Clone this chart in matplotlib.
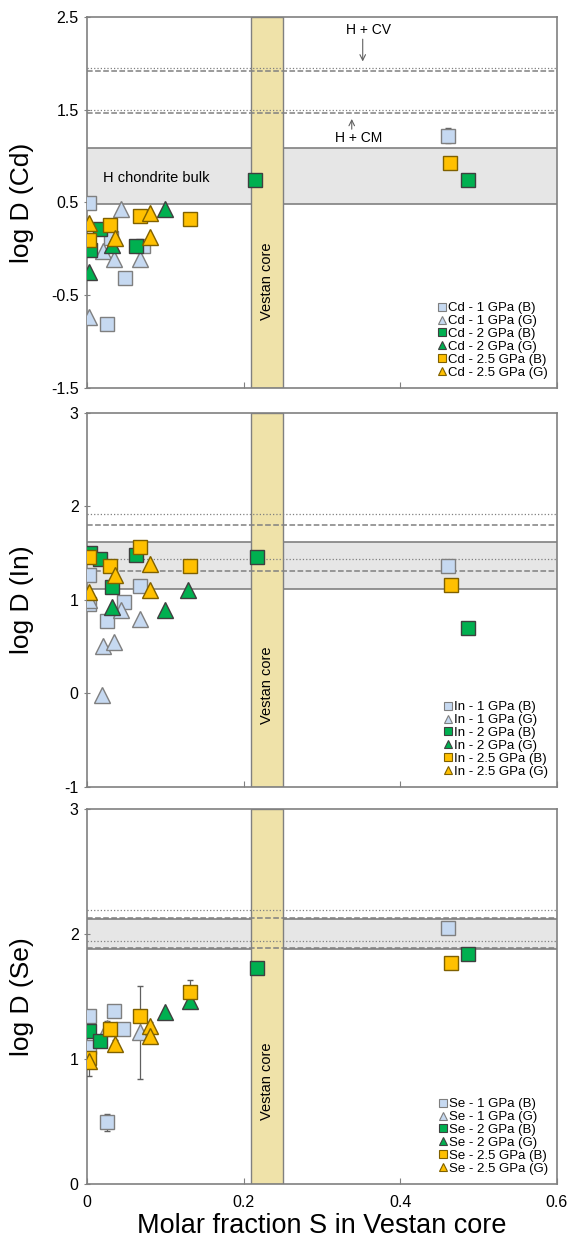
import numpy as np
import matplotlib
matplotlib.use("Agg")
import matplotlib.pyplot as plt

plt.rcParams['font.family'] = ['Liberation Sans', 'DejaVu Sans']
plt.rcParams['axes.unicode_minus'] = False

# ---- Cd data (x = molar fraction S, y = log D) ----
cd_1b_x = [0.002, 0.025, 0.048, 0.072, 0.030, 0.461]
cd_1b_y = [0.49, -0.81, -0.31, 0.03, 0.12, 1.22]
cd_1g_x = [0.043, 0.020, 0.035, 0.068, 0.003]
cd_1g_y = [0.43, -0.02, -0.11, -0.11, -0.74]
cd_2b_x = [0.016, 0.004, 0.063, 0.215, 0.486]
cd_2b_y = [0.21, -0.01, 0.03, 0.745, 0.745]
cd_2g_x = [0.099, 0.032, 0.003]
cd_2g_y = [0.43, 0.045, -0.245]
cd_25b_x = [0.068, 0.131, 0.029, 0.003, 0.464]
cd_25b_y = [0.355, 0.32, 0.256, 0.09, 0.93]
cd_25g_x = [0.080, 0.003, 0.036, 0.080]
cd_25g_y = [0.39, 0.28, 0.12, 0.13]

# ---- In data ----
in_1b_x = [0.003, 0.003, 0.047, 0.068, 0.025, 0.461]
in_1b_y = [1.27, 0.96, 0.98, 1.15, 0.775, 1.36]
in_1g_x = [0.003, 0.043, 0.068, 0.021, 0.035, 0.019]
in_1g_y = [1.00, 0.89, 0.80, 0.51, 0.55, -0.02]
in_2b_x = [0.004, 0.017, 0.063, 0.032, 0.217, 0.486]
in_2b_y = [1.50, 1.436, 1.48, 1.14, 1.457, 0.70]
in_2g_x = [0.129, 0.032, 0.099]
in_2g_y = [1.107, 0.92, 0.89]
in_25b_x = [0.003, 0.029, 0.068, 0.131, 0.465]
in_25b_y = [1.457, 1.364, 1.57, 1.364, 1.16]
in_25g_x = [0.036, 0.080, 0.080, 0.003]
in_25g_y = [1.27, 1.38, 1.11, 1.09]

# ---- Se data ----
se_1b_x = [0.003, 0.034, 0.046, 0.003, 0.025, 0.461]
se_1b_y = [1.347, 1.387, 1.24, 1.093, 0.493, 2.048]
se_1b_e = [0.03, 0.03, 0.03, 0.03, 0.07, 0.03]
se_1g_x = [0.025, 0.068]
se_1g_y = [1.25, 1.213]
se_1g_e = [0.05, 0.37]
se_2b_x = [0.003, 0.017, 0.217, 0.486]
se_2b_y = [1.227, 1.147, 1.73, 1.84]
se_2g_x = [0.131, 0.099]
se_2g_y = [1.46, 1.373]
se_25b_x = [0.131, 0.068, 0.029, 0.003, 0.465]
se_25b_y = [1.533, 1.34, 1.24, 1.008, 1.77]
se_25b_e = [0.1, 0.03, 0.03, 0.03, 0.03]
se_25g_x = [0.080, 0.080, 0.036, 0.003]
se_25g_y = [1.267, 1.187, 1.12, 0.987]
se_25g_e = [0.03, 0.03, 0.03, 0.12]

# reference lines / bands: (dotted, dashed) pairs and H chondrite band
cd_lines = [(1.954, ':'), (1.918, '--'), (1.50, ':'), (1.461, '--')]
cd_band = (0.48, 1.09)
in_lines = [(1.92, ':'), (1.80, '--'), (1.44, ':'), (1.31, '--')]
in_band = (1.12, 1.625)
se_lines = [(2.195, ':'), (2.13, '--'), (1.94, ':'), (1.886, '--')]
se_band = (1.88, 2.12)
vestan = (0.21, 0.25)

c_lb, c_gr, c_or = '#c6d9f1', '#00b050', '#ffc000'
e_lb, e_gr, e_or = '#7f7f7f', '#3f3f3f', '#7f6000'
spine_c = '#808080'

fig = plt.figure(figsize=(5.71, 12.45), dpi=100)
ax1 = fig.add_axes([0.1524, 0.6884, 0.823, 0.298])
ax2 = fig.add_axes([0.1524, 0.3679, 0.823, 0.3004])
ax3 = fig.add_axes([0.1524, 0.0490, 0.823, 0.3012])


def setup(ax, lines, band, ylim, yticks, ylabel, vy):
    ax.set_xlim(0, 0.6)
    ax.set_ylim(*ylim)
    ax.axhspan(band[0], band[1], facecolor='#e6e6e6', edgecolor='none', zorder=0)
    ax.axhline(band[0], color='#808080', lw=1.2, zorder=1)
    ax.axhline(band[1], color='#808080', lw=1.2, zorder=1)
    ax.axvspan(vestan[0], vestan[1], facecolor='#efe2a9', edgecolor='#808080', lw=1, zorder=1.5)
    for y, ls in lines:
        ax.axhline(y, color='#808080', ls=ls, lw=1.1 if ls == '--' else 0.9, zorder=2)
    ax.text(0.23, vy, 'Vestan core', rotation=90, ha='center', va='center', fontsize=10.5, zorder=3)
    ax.set_yticks(yticks)
    ax.set_yticklabels([('%g' % t) for t in yticks], fontsize=11.5)
    ax.set_xticks([0, 0.2, 0.4, 0.6])
    ax.tick_params(axis='x', direction='in', length=4, color=spine_c)
    ax.tick_params(axis='y', direction='inout', length=5, color=spine_c)
    ax.set_ylabel(ylabel, fontsize=19)
    ax.yaxis.set_label_coords(-0.113, 0.5)
    for s in ax.spines.values():
        s.set_color(spine_c)
        s.set_linewidth(1.2)


def series(ax, el, data):
    ms_sq, ms_tr = 9.5, 11
    specs = [('s', c_lb, e_lb, ms_sq, '1 GPa (B)'),
             ('^', c_lb, e_lb, ms_tr, '1 GPa (G)'),
             ('s', c_gr, e_gr, ms_sq, '2 GPa (B)'),
             ('^', c_gr, e_gr, ms_tr, '2 GPa (G)'),
             ('s', c_or, e_or, ms_sq, '2.5 GPa (B)'),
             ('^', c_or, e_or, ms_tr, '2.5 GPa (G)')]
    handles = []
    for (m, fc, ec, ms, lab), d in zip(specs, data):
        x, y = d[0], d[1]
        if len(d) > 2:
            ax.errorbar(x, y, yerr=d[2], fmt='none', ecolor='#606060', elinewidth=0.9,
                        capsize=2.5, zorder=3)
        ax.plot(x, y, ls='none', marker=m, ms=ms, mfc=fc, mec=ec, mew=1.0, zorder=4)
        h, = ax.plot([], [], ls='none', marker=m, ms=6, mfc=fc, mec=ec, mew=0.8)
        handles.append((h, el + ' - ' + lab))
    ax.legend([h for h, _ in handles], [l for _, l in handles], loc='lower right',
              frameon=False, fontsize=9.5, handlelength=0.6, handletextpad=0.15,
              labelspacing=0.05, borderaxespad=0.3)


setup(ax1, cd_lines, cd_band, (-1.5, 2.5), [-1.5, -0.5, 0.5, 1.5, 2.5], 'log D (Cd)', -0.35)
series(ax1, 'Cd', [(cd_1b_x, cd_1b_y, [0.02, 0.02, 0.02, 0.02, 0.02, 0.08]),
                   (cd_1g_x, cd_1g_y), (cd_2b_x, cd_2b_y), (cd_2g_x, cd_2g_y),
                   (cd_25b_x, cd_25b_y), (cd_25g_x, cd_25g_y)])
ax1.text(0.36, 2.36, 'H + CV', ha='center', va='center', fontsize=10)
ax1.annotate('', xy=(0.352, 1.99), xytext=(0.352, 2.29),
             arrowprops=dict(arrowstyle='->', color='#606060', lw=0.8))
ax1.text(0.347, 1.19, 'H + CM', ha='center', va='center', fontsize=10)
ax1.annotate('', xy=(0.338, 1.43), xytext=(0.338, 1.26),
             arrowprops=dict(arrowstyle='->', color='#606060', lw=0.8))
ax1.text(0.02, 0.76, 'H chondrite bulk', ha='left', va='center', fontsize=10.5)
ax1.set_xticklabels([])

setup(ax2, in_lines, in_band, (-1, 3), [-1, 0, 1, 2, 3], 'log D (In)', 0.09)
series(ax2, 'In', [(in_1b_x, in_1b_y, [0.02, 0.02, 0.02, 0.02, 0.02, 0.05]),
                   (in_1g_x, in_1g_y), (in_2b_x, in_2b_y), (in_2g_x, in_2g_y),
                   (in_25b_x, in_25b_y), (in_25g_x, in_25g_y)])
ax2.set_xticklabels([])

setup(ax3, se_lines, se_band, (0, 3), [0, 1, 2, 3], 'log D (Se)', 0.82)
series(ax3, 'Se', [(se_1b_x, se_1b_y, se_1b_e), (se_1g_x, se_1g_y, se_1g_e),
                   (se_2b_x, se_2b_y), (se_2g_x, se_2g_y),
                   (se_25b_x, se_25b_y, se_25b_e), (se_25g_x, se_25g_y, se_25g_e)])
ax3.set_xticklabels(['0', '0.2', '0.4', '0.6'], fontsize=11.5)
ax3.tick_params(axis='x', pad=8)
ax3.set_xlabel('Molar fraction S in Vestan core', fontsize=19.5, labelpad=2)

fig.savefig('out.png', dpi=100)
